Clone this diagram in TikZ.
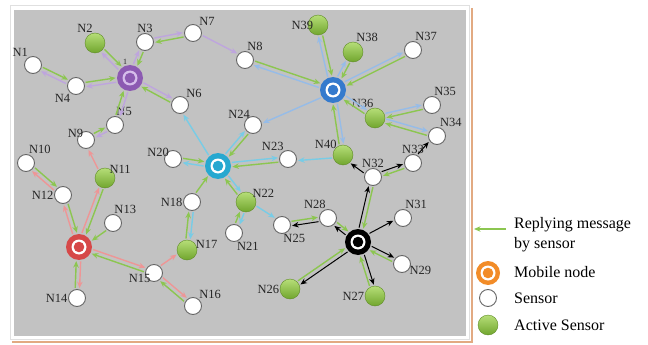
\documentclass[tikz,border=0pt]{standalone}
\usepackage{fontspec}
\setmainfont{Liberation Serif}
\usetikzlibrary{calc,arrows.meta}

\definecolor{panel}{RGB}{194,194,194}
\definecolor{frameline}{RGB}{226,170,130}
\definecolor{agreenT}{RGB}{182,222,120}
\definecolor{agreenB}{RGB}{112,165,45}
\definecolor{replyc}{RGB}{140,198,80}
\definecolor{purpM}{RGB}{140,90,178}
\definecolor{purpI}{RGB}{214,190,235}
\definecolor{purpA}{RGB}{190,165,222}
\definecolor{blueM}{RGB}{52,122,205}
\definecolor{blueA}{RGB}{150,188,232}
\definecolor{cyanM}{RGB}{38,168,208}
\definecolor{cyanA}{RGB}{120,204,230}
\definecolor{redM}{RGB}{214,72,72}
\definecolor{redA}{RGB}{238,150,150}
\definecolor{orangeM}{RGB}{242,140,40}

% link from node #2 to node #3, drawn with style #1, offset sideways
% so that a reply in the opposite direction runs beside it
\newcommand{\lnk}[3]{%
  \draw[#1] let \p1=($(#2.east)-(#2.center)$), \p2=($(#3.east)-(#3.center)$) in
    ($(#2.center)!\x1+1pt!(#3.center)!2.2pt!90:(#3.center)$) --
    ($(#3.center)!\x2+1pt!(#2.center)!2.2pt!-90:(#2.center)$);}
% request from a mobile node and the sensor's reply
\newcommand{\duo}[3]{\lnk{#1}{#2}{#3}\lnk{reply}{#3}{#2}}

\begin{document}
\begin{tikzpicture}[x=1pt,y=-1pt,
  tip/.style={-{Stealth[length=6.5pt,width=5.5pt]}},
  reply/.style={tip, draw=replyc, line width=1.4pt},
  toP/.style={tip, draw=purpA, line width=1.4pt},
  toB/.style={tip, draw=blueA, line width=1.4pt},
  toC/.style={tip, draw=cyanA, line width=1.4pt},
  toR/.style={tip, draw=redA, line width=1.4pt},
  toK/.style={tip, draw=black, line width=1pt},
  lbl/.style={font=\fontsize{12.5}{12.5}\selectfont, text=black!85, inner sep=0.5pt},
  leg/.style={font=\fontsize{16}{20}\selectfont, text=black, align=left, inner sep=0pt},
  sens/.style={circle, draw=black!60, fill=white, line width=0.9pt, minimum size=17pt, inner sep=0pt},
  act/.style={circle, top color=agreenT, bottom color=agreenB, draw=agreenB!85!black, line width=0.4pt,
    minimum size=20pt, inner sep=0pt},
  mob/.style 2 args={circle, fill=#1, minimum size=26pt, inner sep=0pt,
    path picture={
      \fill[#2] (path picture bounding box.center) circle (7.5pt);
      \fill[#1] (path picture bounding box.center) circle (5.3pt);}},
]
\useasboundingbox (0,0) rectangle (648,345);

% frame and field
\draw[frameline, line width=1.3pt] (472,8) -- (472,342) -- (12,342);
\filldraw[fill=white, draw=black!12] (10,5) rectangle (469,339);
\fill[panel] (14,10) rectangle (466,336);

% mobile nodes
\node[mob={purpM}{purpI}, label={[lbl, font=\fontsize{8}{8}\selectfont]100:1}] (P) at (130,78) {};
\node[mob={blueM}{white}] (B) at (333,90) {};
\node[mob={cyanM}{white}] (C) at (218,166) {};
\node[mob={redM}{white}] (R) at (79,247) {};
\node[mob={black}{white}] (K) at (358,242) {};

% sensors
\node[sens, label={[lbl]120:N1}] (N1) at (33,65) {};
\node[act,  label={[lbl]100:N2}] (N2) at (95,43) {};
\node[sens, label={[lbl]90:N3}] (N3) at (145,42) {};
\node[sens, label={[lbl]50:N7}] (N7) at (193,33) {};
\node[sens, label={[lbl]235:N4}] (N4) at (76,86) {};
\node[sens, label={[lbl]85:N5}] (N5) at (115,125) {};
\node[sens, label={[lbl]50:N6}] (N6) at (180,105) {};
\node[sens, label={[lbl]80:N8}] (N8) at (245,60) {};
\node[sens, label={[lbl,label distance=-6pt]135:N9}] (N9) at (86,140) {};
\node[sens, label={[lbl]75:N10}] (N10) at (26,163) {};
\node[act,  label={[lbl,label distance=-5pt]40:N11}] (N11) at (105,178) {};
\node[sens, label={[lbl]180:N12}] (N12) at (63,195) {};
\node[sens, label={[lbl]85:N13}] (N13) at (113,223) {};
\node[sens, label={[lbl]180:N14}] (N14) at (77,298) {};
\node[sens, label={[lbl,label distance=-6pt]185:N15}] (N15) at (154,273) {};
\node[sens, label={[lbl]50:N16}] (N16) at (193,306) {};
\node[act,  label={[lbl,label distance=-2pt]5:N17}] (N17) at (187,250) {};
\node[sens, label={[lbl]180:N18}] (N18) at (192,202) {};
\node[sens, label={[lbl,label distance=-5pt]150:N20}] (N20) at (173,159) {};
\node[sens, label={[lbl]285:N21}] (N21) at (234,233) {};
\node[act,  label={[lbl,label distance=-3pt]35:N22}] (N22) at (246,202) {};
\node[sens, label={[lbl]115:N23}] (N23) at (288,159) {};
\node[sens, label={[lbl,label distance=-3pt]115:N24}] (N24) at (253,125) {};
\node[sens, label={[lbl]275:N25}] (N25) at (282,225) {};
\node[act,  label={[lbl]180:N26}] (N26) at (290,289) {};
\node[act,  label={[lbl]180:N27}] (N27) at (375,296) {};
\node[sens, label={[lbl]100:N28}] (N28) at (328,218) {};
\node[sens, label={[lbl,label distance=-2pt]-10:N29}] (N29) at (402,264) {};
\node[sens, label={[lbl]80:N31}] (N31) at (403,218) {};
\node[sens, label={[lbl]90:N32}] (N32) at (373,177) {};
\node[sens, label={[lbl]90:N33}] (N33) at (413,163) {};
\node[sens, label={[lbl]75:N34}] (N34) at (437,136) {};
\node[sens, label={[lbl]80:N35}] (N35) at (432,105) {};
\node[act,  label={[lbl]95:N36}] (N36) at (375,118) {};
\node[sens, label={[lbl]80:N37}] (N37) at (413,50) {};
\node[act,  label={[lbl]75:N38}] (N38) at (353,52) {};
\node[act,  label={[lbl,label distance=-6pt]180:N39}] (N39) at (318,25) {};
\node[act,  label={[lbl,label distance=-2pt]135:N40}] (N40) at (343,155) {};

% purple mobile node
\duo{toP}{P}{N2}
\duo{toP}{P}{N3}
\duo{toP}{N3}{N7}
\lnk{toP}{N7}{N8}
\duo{toP}{P}{N4}
\duo{toP}{N4}{N1}
\duo{toP}{P}{N6}
\duo{toP}{P}{N5}
\duo{toP}{N5}{N9}

% blue mobile node
\duo{toB}{B}{N8}
\duo{toB}{B}{N39}
\duo{toB}{B}{N38}
\duo{toB}{B}{N37}
\duo{toB}{B}{N36}
\duo{toB}{N36}{N35}
\duo{toB}{N36}{N34}
\duo{toB}{B}{N40}
\lnk{toB}{B}{N24}
\lnk{toC}{N40}{N23}

% cyan mobile node
\lnk{toC}{C}{N6}
\duo{toC}{C}{N24}
\duo{toC}{C}{N20}
\duo{toC}{C}{N23}
\duo{toC}{C}{N22}
\lnk{reply}{N18}{C}
\duo{toC}{N18}{N17}
\duo{toC}{N22}{N21}
\lnk{toC}{N22}{N25}

% red mobile node
\duo{toR}{R}{N11}
\lnk{toR}{N11}{N9}
\duo{toR}{R}{N12}
\duo{toR}{N12}{N10}
\lnk{reply}{N13}{R}
\duo{toR}{R}{N14}
\duo{toR}{R}{N15}
\lnk{toR}{N15}{N17}
\duo{toR}{N15}{N16}

% black mobile node
\duo{toK}{K}{N32}
\lnk{toK}{N32}{N40}
\duo{toK}{N32}{N33}
\lnk{toK}{N33}{N34}
\duo{toK}{K}{N28}
\duo{toK}{N28}{N25}
\lnk{toK}{K}{N31}
\duo{toK}{K}{N29}
\duo{toK}{K}{N27}
\duo{toK}{K}{N26}

% legend
\coordinate (lgA) at (506,229);
\coordinate (lgB) at (474,229);
\draw[reply] (lgA) -- (lgB);
\node[leg, anchor=west] (lt1) at (514,235) {Replying message\\by sensor};
\node[mob={orangeM}{white}, minimum size=24pt] (lm) at (488,273) {};
\node[leg, anchor=west] (lt2) at (514,272) {Mobile node};
\node[sens] (ls) at (488,298) {};
\node[leg, anchor=west] (lt3) at (514,298) {Sensor};
\node[act] (la) at (488,325) {};
\node[leg, anchor=west] (lt4) at (514,325) {Active Sensor};
\end{tikzpicture}
\end{document}
